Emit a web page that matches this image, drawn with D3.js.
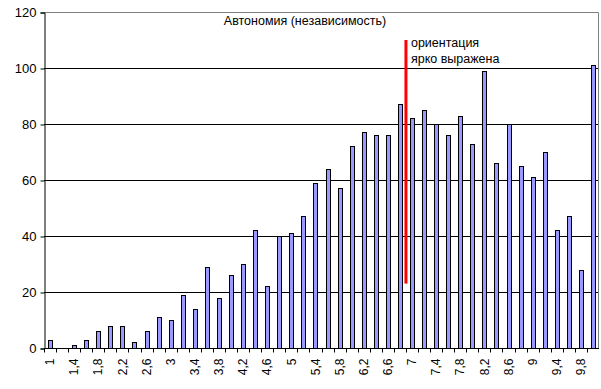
<!DOCTYPE html>
<html>
<head>
<meta charset="utf-8">
<script src="https://cdn.jsdelivr.net/npm/d3@7"></script>
<style>
  body { margin: 0; background: #fff; }
  svg text { font-family: Arial, "Liberation Sans", sans-serif; }
</style>
</head>
<body>
<div id="box"></div>
<script>
// categories: 1 .. 10 step 0.2
const categories = [1, 1.2, 1.4, 1.6, 1.8, 2, 2.2, 2.4, 2.6, 2.8, 3, 3.2, 3.4, 3.6, 3.8, 4, 4.2, 4.4, 4.6, 4.8,
  5, 5.2, 5.4, 5.6, 5.8, 6, 6.2, 6.4, 6.6, 6.8, 7, 7.2, 7.4, 7.6, 7.8, 8, 8.2, 8.4, 8.6, 8.8,
  9, 9.2, 9.4, 9.6, 9.8, 10];
const counts = [3, 0, 1, 3, 6, 8, 8, 2, 6, 11, 10, 19, 14, 29, 18, 26, 30, 42, 22, 40,
  41, 47, 59, 64, 57, 72, 77, 76, 76, 87, 82, 85, 80, 76, 83, 73, 99, 66, 80, 65,
  61, 70, 42, 47, 28, 101];
const tickLabels = ["1", "1,4", "1,8", "2,2", "2,6", "3", "3,4", "3,8", "4,2", "4,6", "5", "5,4",
  "5,8", "6,2", "6,6", "7", "7,4", "7,8", "8,2", "8,6", "9", "9,4", "9,8"];
const yTicks = [0, 20, 40, 60, 80, 100, 120];
const title = "Автономия (независимость)";
const markerX = 6.9;          // red marker position
const markerRange = [23, 110]; // red marker vertical extent
const markerText = ["ориентация", "ярко выражена"];

const width = 601, height = 389;
const padLeft = 44, padRight = 2, padTop = 12, padBottom = 41;

const svg = d3.select('#box').append('svg')
  .attr('width', width)
  .attr('height', height);

const x = d3.scaleBand()
  .domain(categories)
  .range([padLeft, width - padRight])
  .padding(0);

const y = d3.scaleLinear()
  .domain([0, 120])
  .range([height - padBottom, padTop]);

// category value -> pixel (for the marker between bars)
const xVal = d3.scaleLinear()
  .domain([categories[0], categories[categories.length - 1]])
  .range([x(categories[0]) + x.bandwidth() / 2, x(categories[categories.length - 1]) + x.bandwidth() / 2]);

// grid lines
svg.selectAll('.grid').data(yTicks.filter(d => d > 0 && d < 120))
  .join('line')
  .attr('class', 'grid')
  .attr('x1', padLeft).attr('x2', width - padRight)
  .attr('y1', d => Math.round(y(d)) + 0.5).attr('y2', d => Math.round(y(d)) + 0.5)
  .style('stroke', '#000')
  .style('stroke-width', 1);

// plot border top/right (grey)
svg.append('path')
  .attr('d', `M${padLeft},${Math.round(y(120)) + 0.5} H${width - padRight - 0.5} V${y(0)}`)
  .style('fill', 'none')
  .style('stroke', '#808080')
  .style('stroke-width', 1);

// bars
const barW = 4;
svg.selectAll('.bar').data(categories)
  .join('rect')
  .attr('class', 'bar')
  .attr('x', (d) => Math.round(x(d) + x.bandwidth() / 2 - barW / 2) + 0.5)
  .attr('y', (d, i) => Math.round(y(counts[i])) + 0.5)
  .attr('width', barW)
  .attr('height', (d, i) => Math.round(y(0)) - Math.round(y(counts[i])))
  .style('fill', '#9999ff')
  .style('stroke', '#000')
  .style('stroke-width', 1);

// y axis
const yAxis = d3.axisLeft(y).tickValues(yTicks).tickSize(4).tickPadding(4);
const yG = svg.append('g')
  .attr('transform', `translate(${padLeft + 0.5},0.5)`)
  .call(yAxis);
yG.selectAll('path, line').style('stroke', '#000');
yG.selectAll('text').style('font-size', '13px').style('fill', '#000')
  .attr('font-family', 'Arial, "Liberation Sans", sans-serif');

// x axis
const xG = svg.append('g')
  .attr('transform', `translate(0,${Math.round(y(0)) + 0.5})`);
xG.append('line')
  .attr('x1', padLeft).attr('x2', width - padRight)
  .style('stroke', '#000');
xG.selectAll('.xtick').data(categories)
  .join('line')
  .attr('class', 'xtick')
  .attr('x1', d => Math.round(x(d)) + 0.5).attr('x2', d => Math.round(x(d)) + 0.5)
  .attr('y1', 0).attr('y2', 4)
  .style('stroke', '#000');
xG.selectAll('.xlabel').data(categories.filter((d, i) => i % 2 === 0))
  .join('text')
  .attr('class', 'xlabel')
  .attr('transform', d => `translate(${x(d) + x.bandwidth() / 2},10) rotate(-90)`)
  .attr('text-anchor', 'end')
  .attr('dy', '0.35em')
  .style('font-size', '12px')
  .text((d, i) => tickLabels[i]);

// title
svg.append('text')
  .attr('x', 305)
  .attr('y', 25)
  .attr('text-anchor', 'middle')
  .style('font-size', '12.5px')
  .text(title);

// red marker
svg.append('line')
  .attr('x1', xVal(markerX)).attr('x2', xVal(markerX))
  .attr('y1', y(markerRange[1])).attr('y2', y(markerRange[0]))
  .style('stroke', '#ff0000')
  .style('stroke-width', 3);

svg.selectAll('.mtext').data(markerText)
  .join('text')
  .attr('class', 'mtext')
  .attr('x', xVal(markerX) + 5)
  .attr('y', (d, i) => 47 + i * 16)
  .style('font-size', '12.5px')
  .text(d => d);
</script>
</body>
</html>
